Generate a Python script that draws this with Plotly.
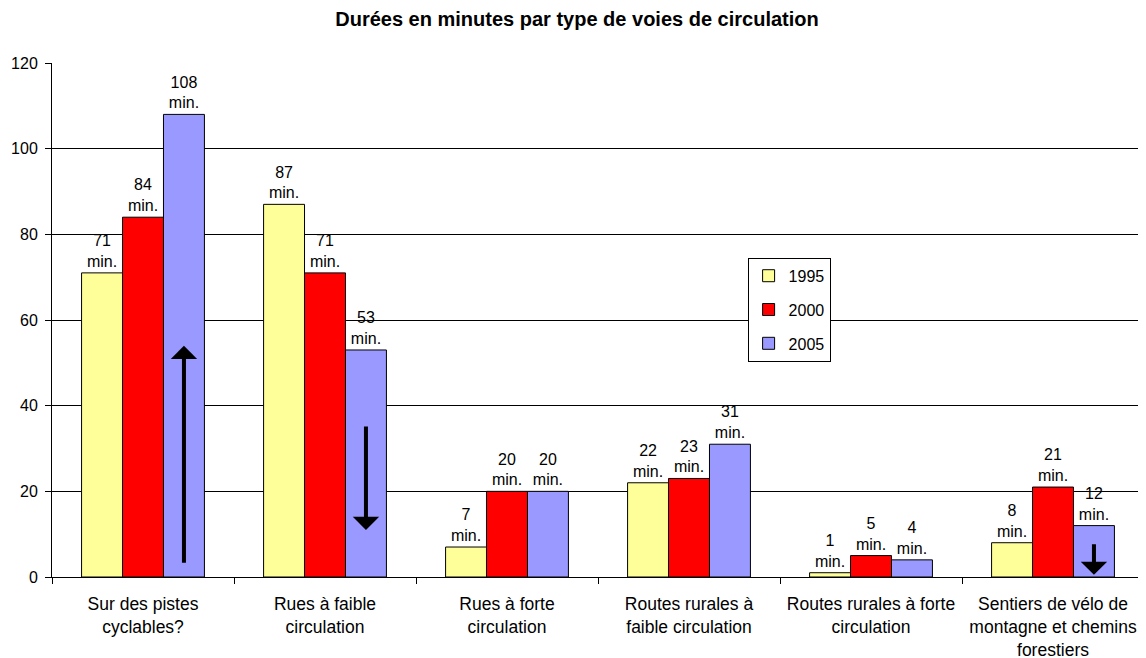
import plotly.graph_objects as go

categories = ["Sur des pistes<br>cyclables?", "Rues à faible<br>circulation", "Rues à forte<br>circulation",
              "Routes rurales à<br>faible circulation", "Routes rurales à forte<br>circulation",
              "Sentiers de vélo de<br>montagne et chemins<br>forestiers"]
years = ["1995", "2000", "2005"]
v1995 = [71, 87, 7, 22, 1, 8]
v2000 = [84, 71, 20, 23, 5, 21]
v2005 = [108, 53, 20, 31, 4, 12]
colors = ["#FFFF99", "#FF0000", "#9999FF"]
# arrows drawn on 2005 bars: (category index, tail value, head value)
arrows = [(0, 3, 54), (1, 35.5, 11), (5, 8, 0.5)]

xs = list(range(len(categories)))
fig = go.Figure()
for name, vals, col in zip(years, [v1995, v2000, v2005], colors):
    fig.add_trace(go.Bar(
        x=xs, y=vals, name=name, legendgroup=name,
        marker=dict(color=col, line=dict(color="black", width=1)),
        texttemplate="%{y}<br>min.", textposition="outside",
        textfont=dict(size=16, color="black"), cliponaxis=False,
    ))

bw = (1 - 0.325) / 3
for ci, tail, head in arrows:
    xc = ci + bw
    fig.add_annotation(x=xc, y=head, ax=xc, ay=tail, xref="x", yref="y", axref="x", ayref="y",
                       showarrow=True, arrowhead=1, arrowwidth=4, arrowsize=1.1, arrowcolor="black", text="")

fig.update_layout(
    width=1138, height=650,
    paper_bgcolor="white", plot_bgcolor="white",
    font=dict(family="Liberation Sans, Arial, sans-serif", size=16, color="black"),
    title=dict(text="<b>Durées en minutes par type de voies de circulation</b>", x=0.5, xanchor="center",
               y=0.983, yanchor="middle", font=dict(size=20)),
    margin=dict(l=44, r=2, t=55, b=81),
    barmode="group", bargap=0.325, bargroupgap=0,
    legend=dict(x=0.637, y=0.621, xanchor="left", yanchor="top", bordercolor="black", borderwidth=1,
                bgcolor="white", tracegroupgap=10, font=dict(size=16)),
    showlegend=True,
)
fig.update_xaxes(range=[-0.5, 5.5], tickvals=xs, ticktext=categories, ticks="", showgrid=False,
                 showline=True, linecolor="black", linewidth=1, ticklabelstandoff=11, automargin=False,
                 minor=dict(tickvals=[i + 0.5 for i in range(-1, 6)], ticks="outside", ticklen=6,
                            tickcolor="black", showgrid=False),
                 tickfont=dict(size=17.5))
fig.update_yaxes(range=[0, 120], tickvals=[0, 20, 40, 60, 80, 100, 120], showgrid=True, gridcolor="black",
                 gridwidth=1, showline=True, linecolor="black", linewidth=1, ticks="outside", ticklen=6,
                 tickcolor="black", tickfont=dict(size=16), zeroline=False, ticklabelstandoff=4)

fig.write_html("out.html")
